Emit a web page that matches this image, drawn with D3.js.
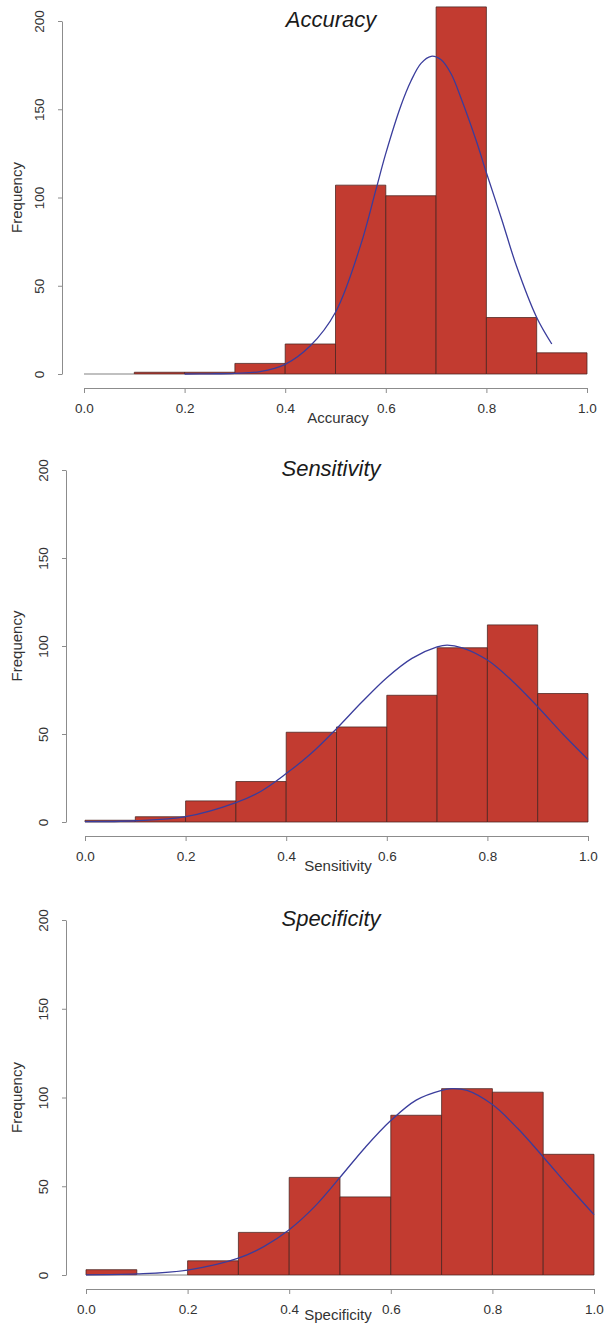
<!DOCTYPE html>
<html>
<head>
<meta charset="utf-8">
<script src="https://cdn.jsdelivr.net/npm/d3@7"></script>
<style>
  body { margin: 0; background: #fff; }
  svg text { font-family: 'Liberation Sans', Arial, sans-serif; fill: #333; }
  .axis path, .axis line { stroke: #8c8c8c; stroke-width: 1; }
</style>
</head>
<body>
<div id="chart"></div>
<script>
var binEdges = [0.0, 0.1, 0.2, 0.3, 0.4, 0.5, 0.6, 0.7, 0.8, 0.9, 1.0];
var xTicks = [0.0, 0.2, 0.4, 0.6, 0.8, 1.0];
var yTicks = [0, 50, 100, 150, 200];

var accuracyCounts = [0, 1, 1, 6, 17, 107, 101, 208, 32, 12];
var sensitivityCounts = [1, 3, 12, 23, 51, 54, 72, 99, 112, 73];
var specificityCounts = [3, 0, 8, 24, 55, 44, 90, 105, 103, 68];

// fitted normal curves
var accuracyCurveX = [0.20, 0.25, 0.30, 0.35, 0.40, 0.45, 0.50, 0.55, 0.58, 0.60, 0.63, 0.65, 0.67, 0.69, 0.71, 0.73, 0.75, 0.78, 0.80, 0.83, 0.86, 0.90, 0.93];
var accuracyCurveY = [0, 0.1, 0.4, 1.4, 5.5, 16, 35, 73, 104, 125, 152, 166, 176, 180, 178, 170, 156, 132, 114, 88, 61, 32, 17];

var sensitivityCurveX = [0.0, 0.1, 0.2, 0.3, 0.35, 0.4, 0.45, 0.5, 0.55, 0.6, 0.65, 0.7, 0.72, 0.75, 0.8, 0.85, 0.9, 0.95, 1.0];
var sensitivityCurveY = [0.2, 0.7, 3, 11, 17.5, 27.5, 39, 53, 68, 82, 93, 99.5, 100.5, 99, 92, 80, 65.5, 50, 35.5];

var specificityCurveX = [0.0, 0.1, 0.2, 0.3, 0.35, 0.4, 0.45, 0.5, 0.55, 0.6, 0.65, 0.7, 0.72, 0.75, 0.8, 0.85, 0.9, 0.95, 1.0];
var specificityCurveY = [0.1, 0.6, 2.8, 9.5, 16, 25.5, 38.5, 55, 72, 87, 98.5, 104, 105, 104, 96, 82.5, 66.5, 50, 34];

var width = 606, height = 1325;

var svg = d3.select('#chart')
  .append('svg')
  .attr('width', width)
  .attr('height', height);

var panels = [
  { title: 'Accuracy', counts: accuracyCounts, cx: accuracyCurveX, cy: accuracyCurveY,
    left: 84, right: 587, base: 374, top: 21, axisX: 62, axisY: 388, labelGap: 30 },
  { title: 'Sensitivity', counts: sensitivityCounts, cx: sensitivityCurveX, cy: sensitivityCurveY,
    left: 85, right: 588, base: 822, top: 470, axisX: 66, axisY: 836, labelGap: 30 },
  { title: 'Specificity', counts: specificityCounts, cx: specificityCurveX, cy: specificityCurveY,
    left: 86, right: 594, base: 1275, top: 920, axisX: 66, axisY: 1289, labelGap: 26 }
];

panels.forEach(drawPanel);

function drawPanel(p) {
  var xScale = d3.scaleLinear().domain([0, 1]).range([p.left, p.right]);
  var yScale = d3.scaleLinear().domain([0, 200]).range([p.base, p.top]);
  var g = svg.append('g');

  // bars (paths so empty bins still show as a line)
  g.selectAll('.bar')
    .data(p.counts)
    .enter()
    .append('path')
    .attr('class', 'bar')
    .attr('d', function (d, i) {
      var x0 = xScale(binEdges[i]), x1 = xScale(binEdges[i + 1]);
      var y0 = yScale(0), y1 = yScale(d);
      return 'M' + x0 + ',' + y0 + 'V' + y1 + 'H' + x1 + 'V' + y0 + 'Z';
    })
    .attr('fill', '#c23b30')
    .attr('stroke', function (d) { return d === 0 ? '#999' : '#4a2420'; })
    .attr('stroke-opacity', 0.85)
    .attr('stroke-width', 0.9);

  // normal curve
  var pts = p.cx.map(function (x, i) { return [x, p.cy[i]]; });
  var line = d3.line()
    .x(function (d) { return xScale(d[0]); })
    .y(function (d) { return yScale(d[1]); })
    .curve(d3.curveCatmullRom.alpha(0.5));
  g.append('path')
    .datum(pts)
    .attr('d', line)
    .attr('fill', 'none')
    .attr('stroke', '#3a3d9c')
    .attr('stroke-width', 1.3);

  // x axis
  var xAxis = d3.axisBottom(xScale)
    .tickValues(xTicks)
    .tickSize(5)
    .tickSizeOuter(0)
    .tickPadding(10)
    .tickFormat(d3.format('.1f'));
  var xAxisG = g.append('g')
    .attr('class', 'axis')
    .attr('transform', 'translate(0,' + p.axisY + ')')
    .call(xAxis);
  xAxisG.selectAll('text')
    .attr('font-size', '13.5px')
    .attr('font-family', null)
    .attr('fill', null);

  // y axis
  var yAxis = d3.axisLeft(yScale)
    .tickValues(yTicks)
    .tickSize(4)
    .tickSizeOuter(0);
  var yAxisG = g.append('g')
    .attr('class', 'axis')
    .attr('transform', 'translate(' + p.axisX + ',0)')
    .call(yAxis);
  yAxisG.selectAll('text')
    .attr('transform', 'rotate(-90)')
    .attr('x', 0)
    .attr('y', -23)
    .attr('dy', '0.35em')
    .attr('text-anchor', 'middle')
    .attr('font-size', '13.5px')
    .attr('font-family', null)
    .attr('fill', null);

  // titles and labels
  g.append('text')
    .attr('x', 331)
    .attr('y', p.top - 2)
    .attr('dy', '0.35em')
    .attr('text-anchor', 'middle')
    .attr('font-size', '22px')
    .attr('font-style', 'italic')
    .style('fill', '#1a1a1a')
    .text(p.title);

  g.append('text')
    .attr('x', 338)
    .attr('y', p.axisY + p.labelGap)
    .attr('dy', '0.35em')
    .attr('text-anchor', 'middle')
    .attr('font-size', '15px')
    .text(p.title);

  g.append('text')
    .attr('transform', 'translate(17,' + ((p.base + p.top) / 2) + ') rotate(-90)')
    .attr('dy', '0.35em')
    .attr('text-anchor', 'middle')
    .attr('font-size', '15px')
    .text('Frequency');
}
</script>
</body>
</html>
